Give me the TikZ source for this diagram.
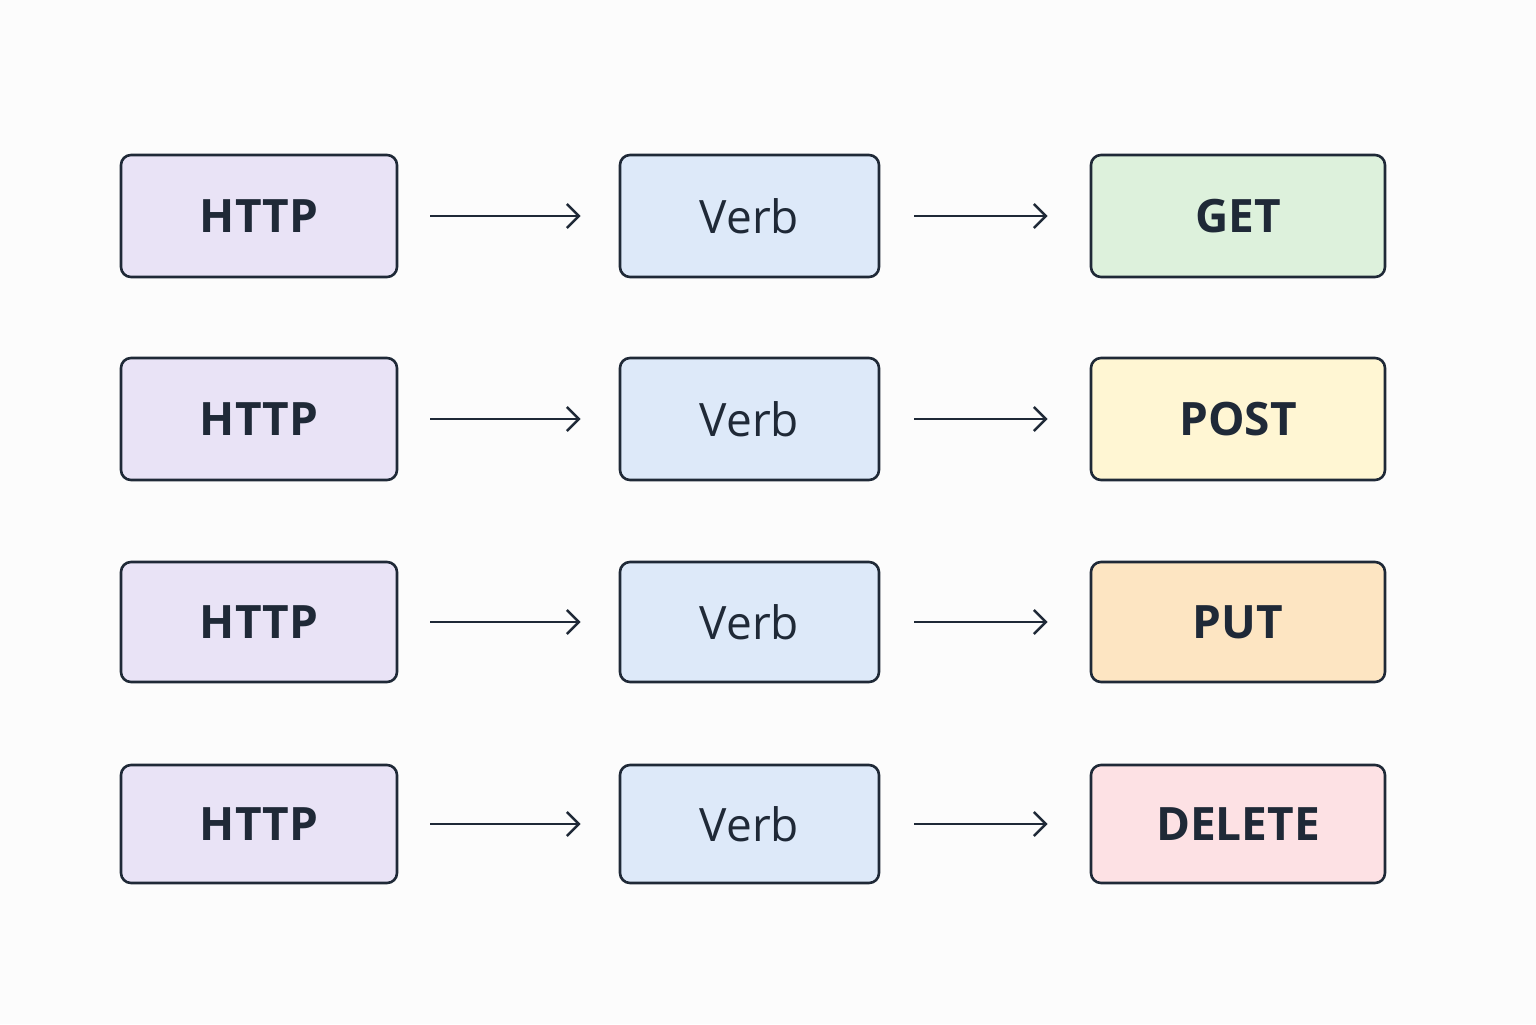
\documentclass[tikz,border=0pt]{standalone}
\usepackage{fontspec}
\setmainfont{Open Sans}
\usetikzlibrary{arrows.meta}
\definecolor{ink}{HTML}{1F2937}
\definecolor{cH}{HTML}{E9E3F6}
\definecolor{cV}{HTML}{DDE9F9}
\definecolor{cG}{HTML}{DDF1DC}
\definecolor{cP}{HTML}{FFF6D3}
\definecolor{cU}{HTML}{FDE5C2}
\definecolor{cD}{HTML}{FDE1E4}
\begin{document}
\begin{tikzpicture}[x=0.5pt,y=-0.5pt,
 box/.style={draw=ink,line width=1.3pt,rounded corners=5pt,inner sep=0pt,text=ink,font=\fontsize{23}{26}\selectfont},
 arr/.style={draw=ink,line width=1.3pt,-{Straight Barb[length=6pt,width=12pt]}}]
\fill[white!98!gray] (0,0) rectangle (1536,1024);
\foreach \i/\t/\b/\c/\col in {1/155/277/GET/cG,2/358/480/POST/cP,3/562/682/PUT/cU,4/765/883/DELETE/cD}{
 \node[box,fill=cH,minimum width=138pt,minimum height={(\b-\t)/2*1pt},font=\fontsize{23}{26}\selectfont\bfseries] (h\i) at (259,{(\t+\b)/2}) {HTTP};
 \node[box,fill=cV,minimum width=129.5pt,minimum height={(\b-\t)/2*1pt}] (v\i) at (749.5,{(\t+\b)/2}) {Verb};
 \node[box,fill=\col,minimum width=147pt,minimum height={(\b-\t)/2*1pt},font=\fontsize{23}{26}\selectfont\bfseries] (r\i) at (1238,{(\t+\b)/2}) {\c};
 \draw[arr] ([xshift=16pt]h\i.east) -- ([xshift=-19pt]v\i.west);
 \draw[arr] ([xshift=17pt]v\i.east) -- ([xshift=-21pt]r\i.west);
}
\end{tikzpicture}
\end{document}
